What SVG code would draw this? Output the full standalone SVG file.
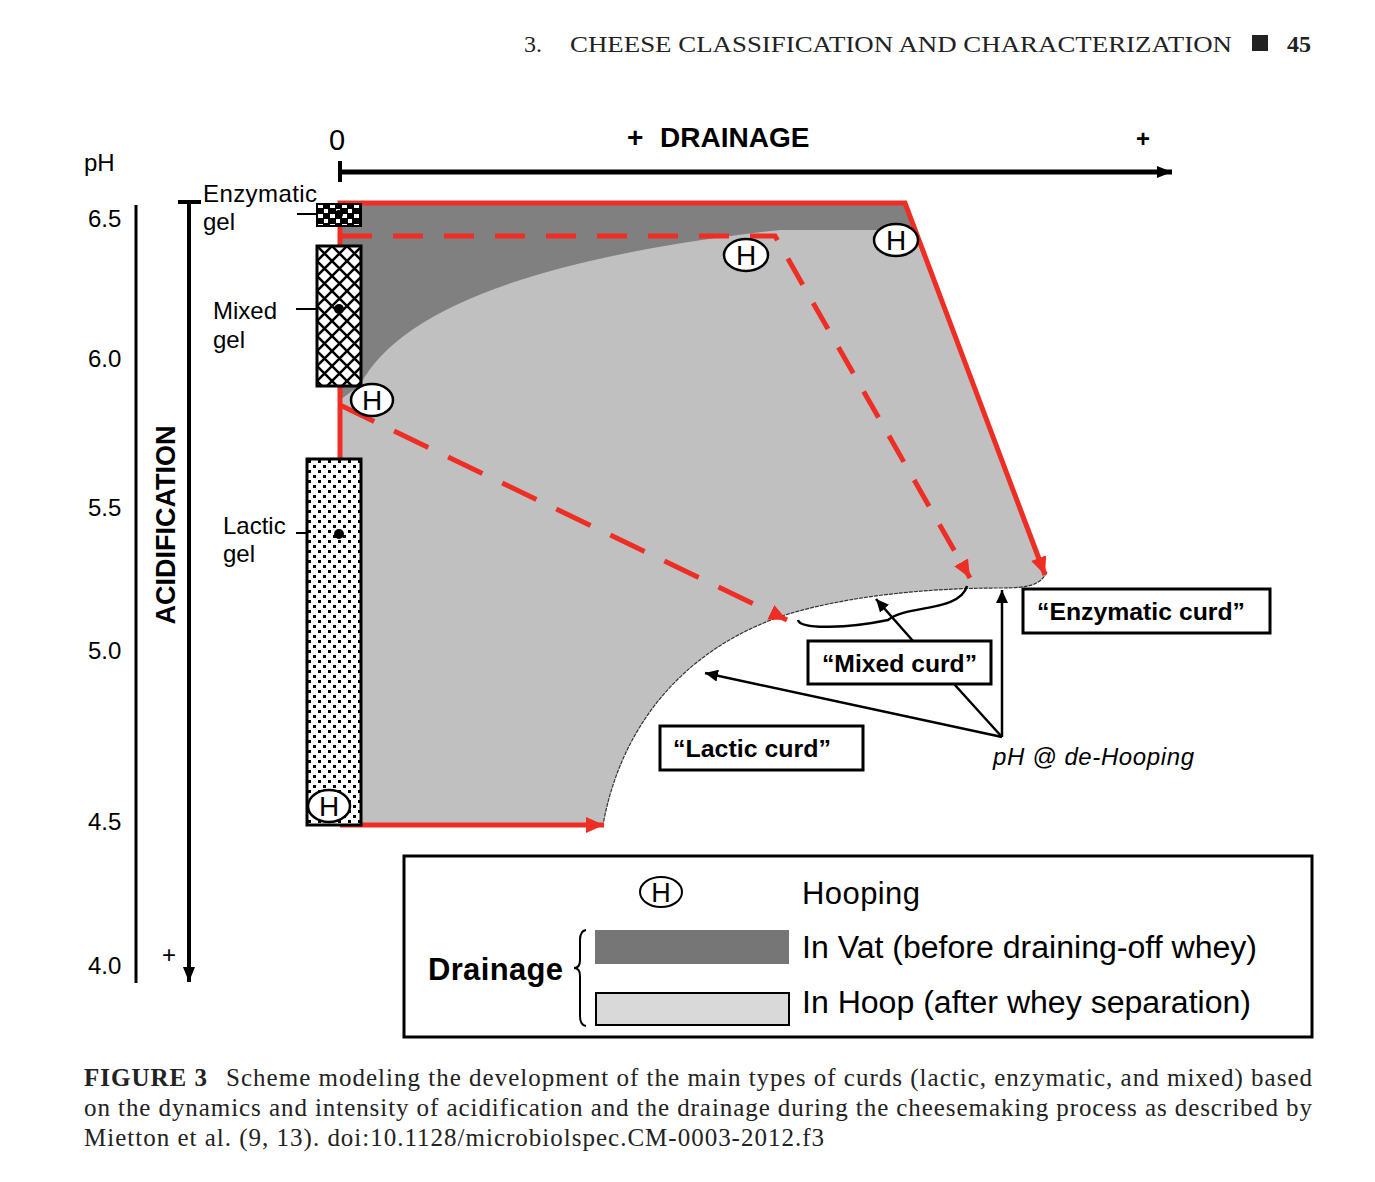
<svg xmlns="http://www.w3.org/2000/svg" width="1375" height="1182" viewBox="0 0 1375 1182">
<style>
.sans{font-family:"Liberation Sans",Arial,sans-serif;fill:#000}
.serif{font-family:"Liberation Serif","Times New Roman",serif;fill:#222}
.b{font-weight:bold}
.red{stroke:#ee2e24;stroke-width:5;fill:none}
.blk{stroke:#000;fill:none}
.box{fill:#fff;stroke:#000;stroke-width:3}
.hell{fill:#fff;stroke:#000;stroke-width:2.5}
</style>
<defs>
<marker id="ra" markerUnits="userSpaceOnUse" markerWidth="20" markerHeight="16" refX="18" refY="8" orient="auto"><path d="M0,0 L18,8 L0,16 Z" fill="#ee2e24"/></marker>
<marker id="ka" markerUnits="userSpaceOnUse" markerWidth="14" markerHeight="12" refX="13" refY="6" orient="auto"><path d="M0,0 L13,6 L0,12 Z" fill="#000"/></marker>
<marker id="ax" markerUnits="userSpaceOnUse" markerWidth="16" markerHeight="12" refX="15" refY="6" orient="auto"><path d="M0,0 L15,6 L0,12 Z" fill="#000"/></marker>
<pattern id="chk" width="12" height="10" patternUnits="userSpaceOnUse" x="317" y="203"><rect width="12" height="10" fill="#000"/><rect x="1" y="1" width="5" height="4" fill="#fff"/><rect x="7" y="6" width="4" height="4" fill="#fff"/></pattern>
<pattern id="dia" width="15" height="15" patternUnits="userSpaceOnUse" x="317" y="246"><rect width="15" height="15" fill="#fff"/><path d="M0,0 L15,15 M15,0 L0,15 M-1,14 L1,16 M14,-1 L16,1" stroke="#000" stroke-width="2.5"/></pattern>
<pattern id="dot" width="10" height="10" patternUnits="userSpaceOnUse" x="307" y="459"><rect width="10" height="10" fill="#fff"/><rect x="1" y="1" width="3" height="3" fill="#000"/><rect x="6" y="6" width="3" height="3" fill="#000"/></pattern>
</defs>
<rect width="1375" height="1182" fill="#fff"/>

<!-- header -->
<text class="serif" x="524" y="52" font-size="24">3.</text>
<text class="serif" x="570" y="52" font-size="24" textLength="662" lengthAdjust="spacingAndGlyphs">CHEESE CLASSIFICATION AND CHARACTERIZATION</text>
<rect x="1252" y="35" width="16" height="16" fill="#222"/>
<text class="serif b" x="1287" y="52" font-size="24">45</text>

<!-- regions -->
<g id="regions">
<path d="M340,203 H905 L1047,572 C1040,585 1030,588 1000,588 C950,588 860,592 785,615 C680,650 620,730 603,825 H340 Z" fill="#c0c0c0"/>
<path d="M1047,572 C1040,585 1030,588 1000,588 C950,588 860,592 785,615 C680,650 620,730 603,825" fill="none" stroke="#333" stroke-width="1.2" stroke-dasharray="4 1"/>
<path d="M340,203 H905 L915,230 H780 Q420,270 360,385 L340,400 Z" fill="#808080"/>
</g>

<!-- connectors -->
<g id="connectors">
<path class="red" d="M340,460 V203 H905 L1045,575" marker-end="url(#ra)"/>
<path class="red" d="M340,825 H604" marker-end="url(#ra)"/>
<path class="red" d="M342,236 H775 L970,578" stroke-dasharray="30 21" marker-end="url(#ra)"/>
<path class="red" d="M340,405 L787,620" stroke-dasharray="38 22" marker-end="url(#ra)"/>
<path class="blk" d="M340,172 H1172" stroke-width="5" marker-end="url(#ax)"/>
<path class="blk" d="M340,161 V182" stroke-width="4"/>
<path class="blk" d="M136,205 V983" stroke-width="3"/>
<path class="blk" d="M189,202 V982" stroke-width="4" marker-end="url(#ax)"/>
<path class="blk" d="M178,202 H201" stroke-width="4"/>
<path class="blk" d="M297,214 H339 M296,309 H339 M296,533 H339" stroke-width="2"/>
<path class="blk" d="M1002,737 V590" stroke-width="2.5" marker-end="url(#ka)"/>
<path class="blk" d="M1002,737 L705,673" stroke-width="2.5" marker-end="url(#ka)"/>
<path class="blk" d="M1002,737 L954,684" stroke-width="2.5"/>
<path class="blk" d="M913,641 L876,599" stroke-width="2.5" marker-end="url(#ka)"/>
<path class="blk" d="M798,620 C800,630 850,628 888,620 C905,605 960,612 967,586" stroke-width="2.5"/>
</g>

<!-- axis labels -->
<g id="axes-labels">
<text class="sans" x="84" y="171" font-size="24">pH</text>
<text class="sans" x="88" y="227" font-size="24">6.5</text>
<text class="sans" x="88" y="367" font-size="24">6.0</text>
<text class="sans" x="88" y="516" font-size="24">5.5</text>
<text class="sans" x="88" y="659" font-size="24">5.0</text>
<text class="sans" x="88" y="830" font-size="24">4.5</text>
<text class="sans" x="88" y="974" font-size="24">4.0</text>
<text class="sans" x="162" y="963" font-size="24">+</text>
<text class="sans b" x="0" y="0" font-size="27" transform="translate(175,525) rotate(-90)" text-anchor="middle">ACIDIFICATION</text>
<text class="sans" x="337" y="150" font-size="29" text-anchor="middle">0</text>
<text class="sans b" x="627" y="147" font-size="28">+</text>
<text class="sans b" x="660" y="147" font-size="28">DRAINAGE</text>
<text class="sans b" x="1136" y="147" font-size="24">+</text>
</g>

<!-- gels -->
<g id="enzymatic-gel">
<rect x="317" y="204" width="44" height="22" fill="url(#chk)" stroke="#000" stroke-width="2"/>
<circle cx="339" cy="214" r="4" fill="#000"/>
<text class="sans" x="203" y="202" font-size="24" textLength="114">Enzymatic</text>
<text class="sans" x="203" y="230" font-size="24">gel</text>
</g>
<g id="mixed-gel">
<rect x="317" y="246" width="44" height="140" fill="url(#dia)" stroke="#000" stroke-width="3"/>
<circle cx="339" cy="309" r="5" fill="#000"/>
<text class="sans" x="213" y="319" font-size="24">Mixed</text>
<text class="sans" x="213" y="348" font-size="24">gel</text>
</g>
<g id="lactic-gel">
<rect x="307" y="459" width="54" height="366" fill="url(#dot)" stroke="#000" stroke-width="3"/>
<circle cx="339" cy="534" r="5" fill="#000"/>
<text class="sans" x="223" y="534" font-size="24">Lactic</text>
<text class="sans" x="223" y="562" font-size="24">gel</text>
</g>

<!-- hooping markers -->
<g id="h1"><ellipse class="hell" cx="372" cy="400" rx="21" ry="16"/><text class="sans" x="372" y="410" font-size="28" text-anchor="middle">H</text></g>
<g id="h2"><ellipse class="hell" cx="746" cy="255" rx="22" ry="16"/><text class="sans" x="746" y="265" font-size="28" text-anchor="middle">H</text></g>
<g id="h3"><ellipse class="hell" cx="896" cy="240" rx="22" ry="16"/><text class="sans" x="896" y="250" font-size="28" text-anchor="middle">H</text></g>
<g id="h4"><ellipse class="hell" cx="329" cy="806" rx="21" ry="16"/><text class="sans" x="329" y="816" font-size="28" text-anchor="middle">H</text></g>

<!-- curd labels -->
<g id="enzymatic-curd"><rect class="box" x="1023" y="589" width="247" height="44"/><text class="sans b" x="1037" y="620" font-size="24" textLength="208" lengthAdjust="spacingAndGlyphs">“Enzymatic curd”</text></g>
<g id="mixed-curd"><rect class="box" x="808" y="641" width="183" height="43"/><text class="sans b" x="822" y="672" font-size="24" textLength="155" lengthAdjust="spacingAndGlyphs">“Mixed curd”</text></g>
<g id="lactic-curd"><rect class="box" x="660" y="726" width="203" height="44"/><text class="sans b" x="673" y="757" font-size="24" textLength="158" lengthAdjust="spacingAndGlyphs">“Lactic curd”</text></g>
<g id="de-hooping"><text class="sans" x="993" y="765" font-size="24" font-style="italic" textLength="201">pH @ de-Hooping</text></g>

<!-- legend -->
<g id="legend">
<rect x="404" y="856" width="908" height="181" fill="#fff" stroke="#000" stroke-width="3"/>
<ellipse cx="661" cy="892" rx="21" ry="15" fill="#fff" stroke="#000" stroke-width="2"/>
<text class="sans" x="661" y="902" font-size="27" text-anchor="middle">H</text>
<text class="sans" x="802" y="904" font-size="31" textLength="118">Hooping</text>
<text class="sans b" x="428" y="980" font-size="31" textLength="135">Drainage</text>
<path d="M586,930 Q580,931 580,940 V960 Q580,968 574,968 Q580,968 580,976 V1016 Q580,1025 586,1026" fill="none" stroke="#000" stroke-width="2"/>
<rect x="595" y="930" width="194" height="34" fill="#767676"/>
<rect x="596" y="993" width="193" height="32" fill="#d9d9d9" stroke="#000" stroke-width="2"/>
<text class="sans" x="802" y="958" font-size="31" textLength="455" lengthAdjust="spacingAndGlyphs">In Vat (before draining-off whey)</text>
<text class="sans" x="802" y="1013" font-size="31" textLength="449" lengthAdjust="spacingAndGlyphs">In Hoop (after whey separation)</text>
</g>

<!-- caption -->
<g id="caption">
<text class="serif" x="84" y="1086" font-size="25" textLength="1228" lengthAdjust="spacing"><tspan font-weight="bold">FIGURE 3</tspan><tspan dx="18">Scheme modeling the development of the main types of curds (lactic, enzymatic, and mixed) based</tspan></text>
<text class="serif" x="84" y="1116" font-size="25" textLength="1228" lengthAdjust="spacing">on the dynamics and intensity of acidification and the drainage during the cheesemaking process as described by</text>
<text class="serif" x="84" y="1146" font-size="25" textLength="740" lengthAdjust="spacing">Mietton et al. (9, 13). doi:10.1128/microbiolspec.CM-0003-2012.f3</text>
</g>
</svg>
